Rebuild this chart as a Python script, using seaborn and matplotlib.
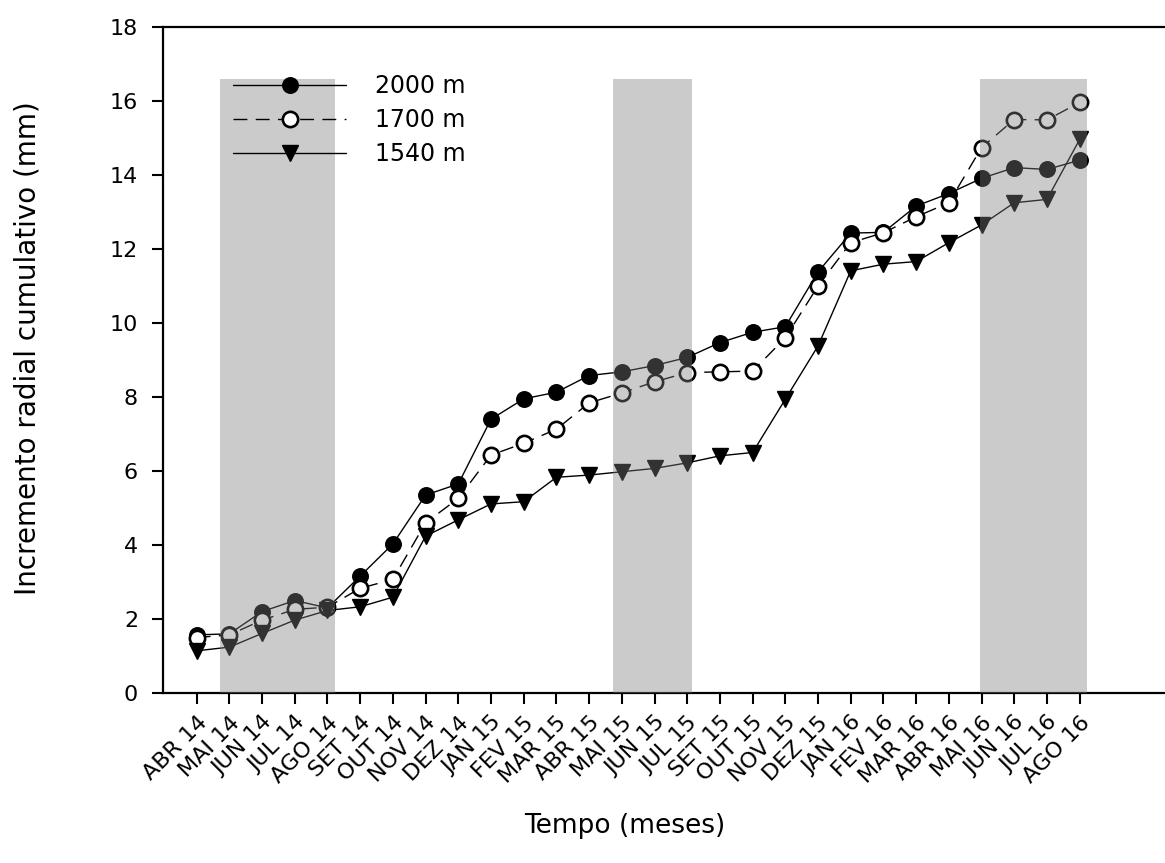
import numpy as np
import pandas as pd
import matplotlib
matplotlib.use("Agg")
import matplotlib.pyplot as plt
import seaborn as sns

# ---- data ----
months = ["ABR 14", "MAI 14", "JUN 14", "JUL 14", "AGO 14", "SET 14", "OUT 14",
          "NOV 14", "DEZ 14", "JAN 15", "FEV 15", "MAR 15", "ABR 15", "MAI 15",
          "JUN 15", "JUL 15", "SET 15", "OUT 15", "NOV 15", "DEZ 15", "JAN 16",
          "FEV 16", "MAR 16", "ABR 16", "MAI 16", "JUN 16", "JUL 16", "AGO 16"]

alt_2000 = [1.57, 1.60, 2.20, 2.50, 2.30, 3.16, 4.03, 5.35, 5.65, 7.40, 7.95, 8.13,
            8.58, 8.68, 8.85, 9.07, 9.47, 9.75, 9.90, 11.38, 12.43, 12.45, 13.16,
            13.50, 13.91, 14.20, 14.15, 14.40]
alt_1700 = [1.50, 1.57, 1.97, 2.26, 2.32, 2.83, 3.07, 4.60, 5.26, 6.43, 6.75, 7.13,
            7.84, 8.11, 8.41, 8.66, 8.68, 8.70, 9.60, 11.00, 12.17, 12.44, 12.87,
            13.25, 14.74, 15.50, 15.49, 15.96]
alt_1540 = [1.14, 1.24, 1.61, 1.97, 2.23, 2.33, 2.59, 4.24, 4.68, 5.11, 5.17, 5.83,
            5.89, 5.98, 6.07, 6.22, 6.41, 6.50, 7.94, 9.38, 11.41, 11.59, 11.66,
            12.17, 12.65, 13.25, 13.34, 14.96]

series_labels = ["2000 m", "1700 m", "1540 m"]

# shaded periods (in month-index units) and their top
dry_spans = [(0.71, 4.23), (12.74, 15.14), (23.95, 27.23)]
band_top = 16.6

# ---- figure ----
sns.set_theme(style="ticks")
plt.rcParams["font.family"] = ["DejaVu Sans"]
plt.rcParams["text.color"] = "black"
plt.rcParams["axes.labelcolor"] = "black"
plt.rcParams["xtick.color"] = "black"
plt.rcParams["ytick.color"] = "black"

W, H = 1165, 863
fig = plt.figure(figsize=(W / 100, H / 100), dpi=100)
ax = fig.add_axes([163 / W, 1 - 693 / H, 1 - 163 / W, (693 - 27) / H])

x = np.arange(len(months))
df = pd.DataFrame({"idx": x, "2000 m": alt_2000, "1700 m": alt_1700, "1540 m": alt_1540})

sns.lineplot(data=df, x="idx", y="2000 m", ax=ax, color="black", lw=1.0,
             marker="o", markersize=11, markerfacecolor="black",
             markeredgecolor="black", markeredgewidth=1.2, label=series_labels[0], zorder=2)
sns.lineplot(data=df, x="idx", y="1700 m", ax=ax, color="black", lw=1.0,
             linestyle=(0, (10, 6)),
             marker="o", markersize=11, markerfacecolor="white",
             markeredgecolor="black", markeredgewidth=1.9, label=series_labels[1], zorder=2)
sns.lineplot(data=df, x="idx", y="1540 m", ax=ax, color="black", lw=1.0,
             marker="v", markersize=12, markerfacecolor="black",
             markeredgecolor="black", markeredgewidth=1.0, label=series_labels[2], zorder=2)

for x0, x1 in dry_spans:
    ax.axvspan(x0, x1, ymin=0, ymax=band_top / 18, facecolor="#7f7f7f",
               alpha=0.4, lw=0, zorder=3)

ax.set_xlim(-1.03, 29.61)
ax.set_ylim(0, 18)
ax.set_yticks(np.arange(0, 19, 2))
ax.set_xticks(x)
ax.set_xticklabels(months, rotation=45, ha="right", rotation_mode="anchor")

for side in ["left", "bottom", "top"]:
    ax.spines[side].set_visible(True)
    ax.spines[side].set_linewidth(1.6)
    ax.spines[side].set_color("black")
ax.spines["right"].set_visible(False)

ax.tick_params(axis="both", direction="out", length=8, width=1.5,
               colors="black", labelsize=16)
ax.tick_params(axis="y", pad=10)
ax.tick_params(axis="x", pad=6)

ax.set_xlabel("Tempo (meses)", fontsize=19)
ax.xaxis.set_label_coords((625 - 163) / 1002, -(826 - 693) / 666)
ax.xaxis.label.set_va("center")
ax.set_ylabel("Incremento radial cumulativo (mm)", fontsize=20)
ax.yaxis.set_label_coords((28 - 163) / 1002, (693 - 348) / 666)
ax.yaxis.label.set_va("center")

leg = ax.legend(loc="upper left", bbox_to_anchor=(233 / W, 1 - 74 / H),
                bbox_transform=fig.transFigure, frameon=False, fontsize=17,
                handlelength=4.8, handletextpad=1.2, labelspacing=0.42,
                borderpad=0, borderaxespad=0)
leg.set_zorder(5)

fig.savefig("out.png", dpi=100)
